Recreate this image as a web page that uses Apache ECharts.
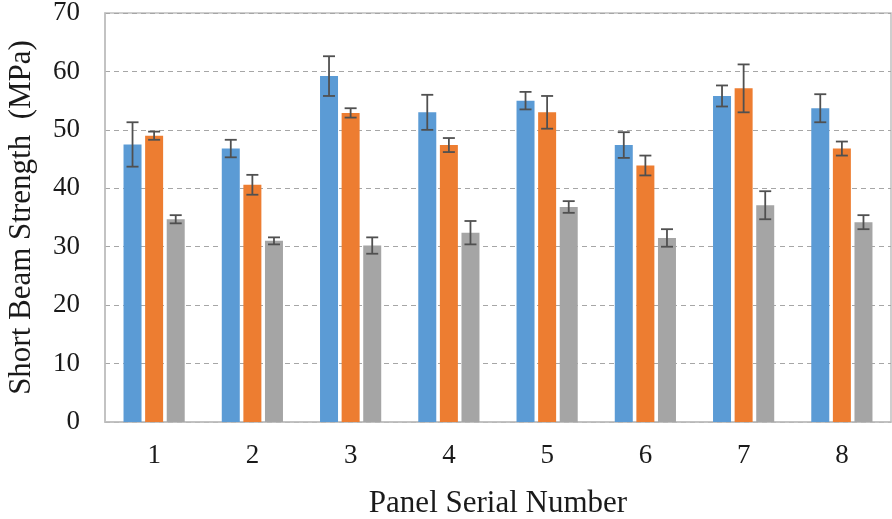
<!DOCTYPE html>
<html>
<head>
<meta charset="utf-8">
<script src="https://cdn.jsdelivr.net/npm/echarts@6/dist/echarts.min.js"></script>
<style>html,body{margin:0;padding:0;background:#fff}#c{width:892px;height:519px}</style>
</head>
<body>
<div id="c"></div>
<script>
const categories = ['1','2','3','4','5','6','7','8'];
const seriesA = [47.5, 46.8, 59.2, 53.0, 55.0, 47.4, 55.8, 53.7];
const seriesB = [49.0, 40.6, 52.9, 47.4, 53.0, 43.9, 57.1, 46.8];
const seriesC = [34.7, 31.0, 30.2, 32.4, 36.8, 31.5, 37.1, 34.2];
const errA = [3.8, 1.5, 3.4, 3.0, 1.5, 2.2, 1.8, 2.4];
const errB = [0.7, 1.7, 0.8, 1.2, 2.8, 1.7, 4.1, 1.2];
const errC = [0.7, 0.6, 1.4, 2.0, 1.0, 1.5, 2.4, 1.2];
const yTicks = {min: 0, max: 70, interval: 10};

const colors = ['#5B9BD5', '#ED7D31', '#A5A5A5'];
const BAR_W = 18, GAP = 0.2;
const font = '"Liberation Serif", "Times New Roman", serif';

function errSeries(vals, errs, k) {
  const data = vals.map((v, i) => [i, v, errs[i]]);
  return {
    type: 'custom',
    z: 10,
    data: data,
    renderItem: function (params, api) {
      const i = api.value(0), v = api.value(1), e = api.value(2);
      const pitch = BAR_W * (1 + GAP);
      const off = (k - 1) * pitch;
      const hi = api.coord([i, v + e]);
      const lo = api.coord([i, v - e]);
      const x = hi[0] + off;
      const cw = 6;
      const st = {stroke: '#505050', lineWidth: 1.8};
      return {
        type: 'group',
        children: [
          {type: 'line', shape: {x1: x, y1: hi[1], x2: x, y2: lo[1]}, style: st},
          {type: 'line', shape: {x1: x - cw, y1: hi[1], x2: x + cw, y2: hi[1]}, style: st},
          {type: 'line', shape: {x1: x - cw, y1: lo[1], x2: x + cw, y2: lo[1]}, style: st}
        ]
      };
    }
  };
}

const chart = echarts.init(document.getElementById('c'));
chart.setOption({
  animation: false,
  backgroundColor: '#fff',
  grid: {left: 105, right: 1, top: 13, bottom: 97, show: true, borderColor: '#bfbfbf', borderWidth: 1.5,
         containLabel: false, outerBoundsMode: 'none'},
  xAxis: {
    type: 'category',
    data: categories,
    axisTick: {show: false},
    axisLine: {lineStyle: {color: '#bfbfbf', width: 1.5}},
    axisLabel: {color: '#1a1a1a', fontFamily: font, fontSize: 27, margin: 20},
    name: 'Panel Serial Number',
    nameLocation: 'middle',
    nameGap: 66,
    nameTextStyle: {color: '#1a1a1a', fontFamily: font, fontSize: 31}
  },
  yAxis: {
    type: 'value',
    min: yTicks.min, max: yTicks.max, interval: yTicks.interval,
    axisLine: {show: true, lineStyle: {color: '#bfbfbf', width: 1.5}},
    axisTick: {show: false},
    axisLabel: {color: '#1a1a1a', fontFamily: font, fontSize: 27, margin: 25},
    splitLine: {lineStyle: {color: '#a6a6a6', type: [5, 4], width: 1}},
    name: 'Short Beam Strength  (MPa)',
    nameLocation: 'middle',
    nameGap: 68,
    nameTextStyle: {color: '#1a1a1a', fontFamily: font, fontSize: 31}
  },
  series: [
    {type: 'bar', data: seriesA, barWidth: BAR_W, barGap: (GAP * 100) + '%', itemStyle: {color: colors[0]}},
    {type: 'bar', data: seriesB, barWidth: BAR_W, barGap: (GAP * 100) + '%', itemStyle: {color: colors[1]}},
    {type: 'bar', data: seriesC, barWidth: BAR_W, barGap: (GAP * 100) + '%', itemStyle: {color: colors[2]}},
    errSeries(seriesA, errA, 0),
    errSeries(seriesB, errB, 1),
    errSeries(seriesC, errC, 2)
  ]
});
</script>
</body>
</html>
